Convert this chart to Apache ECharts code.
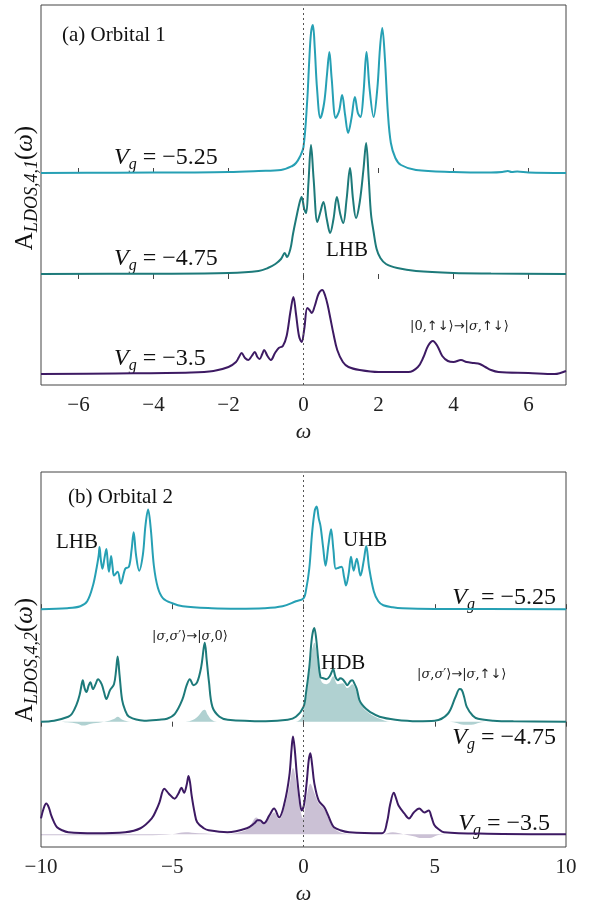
<!DOCTYPE html>
<html>
<head>
<meta charset="utf-8">
<script src="https://cdn.jsdelivr.net/npm/echarts@6/dist/echarts.min.js"></script>
<style>
  html, body { margin: 0; padding: 0; background: #fff; }
  #chart { width: 595px; height: 906px; }
</style>
</head>
<body>
<div id="chart"></div>
<script>
// spectral curves, [omega, height above own baseline]
var orb1_m525 = [[-7,0],[-5,0.003],[-3,0.006],[-2,0.01],[-1.2,0.02],[-0.6,0.03],[-0.3,0.07],[-0.2,0.1],[-0.1,0.16],[0,0.26],[0.1,0.73],[0.15,1.1],[0.2,1.4],[0.25,1.48],[0.3,1.25],[0.36,0.85],[0.45,0.55],[0.55,0.7],[0.63,1.0],[0.69,1.21],[0.75,0.95],[0.86,0.55],[0.95,0.62],[1.03,0.78],[1.11,0.58],[1.19,0.4],[1.28,0.55],[1.37,0.76],[1.45,0.6],[1.52,0.56],[1.6,0.8],[1.68,1.21],[1.76,0.85],[1.87,0.56],[1.97,0.85],[2.04,1.25],[2.1,1.45],[2.17,1.15],[2.25,0.6],[2.33,0.3],[2.45,0.15],[2.6,0.08],[3,0.03],[4,0.01],[5,0.005],[5.3,0.01],[5.45,0.02],[5.55,0.01],[5.7,0.015],[6,0.005],[7,0]];
var orb1_m475 = [[-7,0],[-4,0.003],[-2,0.01],[-1.2,0.03],[-0.95,0.06],[-0.75,0.1],[-0.6,0.15],[-0.5,0.21],[-0.44,0.17],[-0.35,0.25],[-0.28,0.4],[-0.2,0.55],[-0.1,0.72],[-0.05,0.77],[0.02,0.65],[0.07,0.61],[0.13,0.9],[0.2,1.29],[0.27,0.95],[0.37,0.52],[0.45,0.62],[0.53,0.72],[0.62,0.55],[0.71,0.41],[0.8,0.55],[0.89,0.77],[0.98,0.6],[1.06,0.51],[1.15,0.75],[1.24,1.06],[1.32,0.75],[1.4,0.56],[1.5,0.72],[1.6,1.05],[1.67,1.31],[1.74,0.95],[1.8,0.6],[1.87,0.42],[1.95,0.25],[2.05,0.16],[2.2,0.1],[2.5,0.06],[3,0.03],[4,0.01],[5,0.005],[7,0]];
var orb1_m350 = [[-7,0],[-5,0.005],[-3,0.015],[-2.4,0.03],[-2.0,0.07],[-1.8,0.12],[-1.72,0.17],[-1.65,0.21],[-1.56,0.16],[-1.47,0.14],[-1.38,0.18],[-1.3,0.22],[-1.23,0.17],[-1.17,0.15],[-1.1,0.2],[-1.05,0.24],[-0.96,0.18],[-0.87,0.14],[-0.76,0.21],[-0.66,0.26],[-0.55,0.28],[-0.45,0.38],[-0.35,0.62],[-0.27,0.77],[-0.2,0.6],[-0.12,0.38],[-0.05,0.32],[0.02,0.45],[0.1,0.66],[0.16,0.64],[0.22,0.61],[0.3,0.68],[0.4,0.8],[0.5,0.84],[0.58,0.78],[0.65,0.68],[0.72,0.55],[0.8,0.4],[0.9,0.24],[1.05,0.12],[1.2,0.07],[1.5,0.04],[2,0.02],[2.8,0.02],[3.05,0.07],[3.2,0.17],[3.32,0.28],[3.45,0.33],[3.57,0.28],[3.7,0.18],[3.85,0.13],[4.0,0.12],[4.2,0.14],[4.35,0.12],[4.55,0.11],[4.7,0.1],[4.85,0.07],[5.0,0.04],[5.2,0.02],[6,0.01],[6.7,0.0],[7,0.03]];

var orb2_m525 = [[-10,0],[-9,0.01],[-8.5,0.03],[-8.24,0.08],[-8.02,0.24],[-7.88,0.42],[-7.8,0.55],[-7.77,0.63],[-7.72,0.5],[-7.66,0.41],[-7.58,0.52],[-7.51,0.61],[-7.45,0.45],[-7.41,0.38],[-7.33,0.54],[-7.27,0.42],[-7.22,0.34],[-7.08,0.38],[-6.96,0.26],[-6.79,0.41],[-6.65,0.43],[-6.55,0.6],[-6.47,0.78],[-6.38,0.55],[-6.26,0.39],[-6.12,0.55],[-6.02,0.85],[-5.92,1.01],[-5.82,0.82],[-5.7,0.44],[-5.55,0.22],[-5.35,0.11],[-5.0,0.06],[-4.6,0.03],[-3.5,0.01],[-2.5,0.005],[-1.5,0.01],[-0.8,0.03],[-0.29,0.08],[0,0.11],[0.1,0.2],[0.22,0.41],[0.33,0.78],[0.43,1.0],[0.5,1.04],[0.58,0.92],[0.65,0.84],[0.75,0.62],[0.84,0.44],[0.95,0.65],[1.05,0.81],[1.14,0.6],[1.23,0.41],[1.34,0.42],[1.45,0.43],[1.55,0.32],[1.62,0.24],[1.72,0.36],[1.81,0.53],[1.91,0.39],[2.03,0.51],[2.17,0.34],[2.3,0.5],[2.39,0.64],[2.5,0.42],[2.68,0.18],[2.85,0.08],[3.04,0.04],[3.4,0.02],[3.76,0.01],[5,0.003],[10,0]];
var orb2_m475 = [[-10,0],[-9.5,0.01],[-8.96,0.05],[-8.82,0.08],[-8.65,0.17],[-8.53,0.27],[-8.45,0.38],[-8.41,0.42],[-8.34,0.34],[-8.27,0.3],[-8.18,0.37],[-8.12,0.4],[-8.02,0.33],[-7.92,0.38],[-7.83,0.43],[-7.69,0.38],[-7.6,0.3],[-7.51,0.23],[-7.37,0.32],[-7.22,0.38],[-7.14,0.52],[-7.08,0.66],[-7.01,0.48],[-6.91,0.22],[-6.8,0.12],[-6.65,0.05],[-6.07,0.01],[-5.5,0.02],[-5.2,0.03],[-4.9,0.08],[-4.62,0.22],[-4.45,0.37],[-4.33,0.43],[-4.19,0.37],[-4.05,0.4],[-3.9,0.55],[-3.8,0.75],[-3.76,0.8],[-3.69,0.63],[-3.6,0.4],[-3.47,0.15],[-3.2,0.05],[-2.89,0.02],[-1.44,0.005],[-0.6,0.02],[-0.29,0.05],[0,0.15],[0.1,0.3],[0.22,0.55],[0.32,0.85],[0.41,0.95],[0.48,0.85],[0.55,0.66],[0.65,0.45],[0.76,0.44],[0.87,0.43],[1.0,0.46],[1.13,0.53],[1.22,0.45],[1.31,0.42],[1.4,0.44],[1.49,0.43],[1.58,0.4],[1.67,0.37],[1.78,0.41],[1.86,0.42],[1.95,0.38],[2.03,0.33],[2.13,0.22],[2.24,0.17],[2.38,0.13],[2.53,0.1],[2.9,0.05],[3.5,0.02],[4.34,0.005],[5.0,0.01],[5.5,0.08],[5.79,0.25],[5.95,0.33],[6.03,0.32],[6.12,0.25],[6.22,0.15],[6.45,0.06],[6.65,0.03],[7.23,0.01],[8,0.003],[10,0]];
var orb2_m350 = [[-10,0.16],[-9.9,0.26],[-9.8,0.31],[-9.7,0.27],[-9.61,0.19],[-9.5,0.12],[-9.39,0.07],[-9.2,0.04],[-8.96,0.02],[-7.95,0.01],[-6.79,0.02],[-6.21,0.06],[-5.78,0.16],[-5.6,0.25],[-5.49,0.32],[-5.3,0.46],[-5.13,0.41],[-4.91,0.36],[-4.77,0.41],[-4.65,0.47],[-4.55,0.42],[-4.45,0.5],[-4.38,0.59],[-4.32,0.52],[-4.26,0.39],[-4.15,0.22],[-4.05,0.12],[-3.8,0.06],[-3.61,0.04],[-2.9,0.02],[-2.16,0.06],[-1.87,0.11],[-1.75,0.14],[-1.66,0.14],[-1.51,0.11],[-1.3,0.19],[-1.12,0.26],[-0.93,0.17],[-0.72,0.32],[-0.54,0.59],[-0.45,0.88],[-0.4,0.99],[-0.33,0.85],[-0.26,0.62],[-0.15,0.35],[-0.07,0.24],[0.02,0.3],[0.12,0.52],[0.2,0.75],[0.26,0.82],[0.33,0.7],[0.41,0.52],[0.58,0.34],[0.8,0.27],[0.94,0.19],[1.05,0.12],[1.16,0.07],[1.4,0.04],[1.74,0.02],[3.0,0.01],[3.18,0.12],[3.3,0.3],[3.44,0.42],[3.53,0.36],[3.62,0.29],[3.84,0.21],[4.02,0.16],[4.2,0.22],[4.41,0.26],[4.6,0.22],[4.77,0.24],[4.88,0.17],[4.99,0.09],[5.15,0.05],[5.35,0.02],[7,0.005],[10,0]];

// shaded contributions under the Vg=-4.75 and Vg=-3.5 curves of orbital 2
var orb2_fill475 = [[-10,0],[-9,-0.005],[-8.6,-0.02],[-8.4,-0.04],[-8.1,-0.02],[-7.7,-0.005],[-7.4,0.01],[-7.2,0.03],[-7.08,0.05],[-6.9,0.02],[-6.6,0],[-4.5,0],[-4.2,0.02],[-4.0,0.06],[-3.85,0.11],[-3.76,0.12],[-3.65,0.07],[-3.5,0.02],[-3.3,0],[-0.3,0],[-0.1,0.03],[0,0.1],[0.1,0.25],[0.22,0.5],[0.32,0.72],[0.42,0.8],[0.5,0.7],[0.6,0.5],[0.7,0.4],[0.87,0.38],[1.0,0.4],[1.13,0.46],[1.3,0.38],[1.5,0.39],[1.67,0.34],[1.86,0.38],[2.03,0.3],[2.24,0.15],[2.53,0.08],[2.9,0.03],[3.3,0],[5.5,0],[5.8,-0.01],[6.1,-0.03],[6.4,-0.03],[6.7,-0.01],[7,0],[10,0]];
var orb2_fill350 = [[-10,-0.01],[-8,-0.01],[-6,-0.01],[-5,0],[-4.5,0.02],[-4,0.01],[-3,0],[-2.2,0.04],[-2.0,0.1],[-1.8,0.17],[-1.65,0.14],[-1.5,0.11],[-1.3,0.17],[-1.12,0.22],[-0.93,0.15],[-0.72,0.28],[-0.54,0.48],[-0.4,0.67],[-0.26,0.5],[-0.15,0.28],[-0.02,0.16],[0.12,0.38],[0.26,0.51],[0.41,0.42],[0.58,0.31],[0.8,0.25],[0.94,0.17],[1.16,0.06],[1.5,0.01],[2.0,0],[3.0,0],[3.4,0.02],[3.8,0],[4.2,-0.02],[4.5,-0.04],[4.8,-0.04],[5.1,-0.01],[5.5,0],[10,0]];

var ticksA = [-6, -4, -2, 0, 2, 4, 6];
var offsetsA = [2.01, 1.0, 0];   // baselines of Vg=-5.25, -4.75, -3.5
var offsetsB = [2.28, 1.14, 0];
var colors = ['#26a0b4', '#1d7a7a', '#3d1a63'];
var fillColors = ['rgba(29,122,122,0.35)', 'rgba(61,26,99,0.27)'];

var serif = "'Liberation Serif', 'DejaVu Serif', serif";
var mathSerif = "'DejaVu Serif', serif";
var symSans = "'DejaVu Sans', sans-serif";

function minusFmt(v) {
  return (v < 0 ? '\u2212' : '') + Math.abs(v);
}

function bottomAxis(grid, min, max, extra) {
  var ax = {
    type: 'value', gridIndex: grid, position: 'bottom', min: min, max: max,
    axisLine: { show: false },
    axisTick: { inside: true, length: 5, lineStyle: { color: '#444' } },
    splitLine: { show: false },
    axisLabel: { color: '#222', fontSize: 21, fontFamily: serif, margin: 10, formatter: minusFmt },
    name: 'ω', nameLocation: 'middle', nameGap: 36,
    nameTextStyle: { fontSize: 22, fontStyle: 'italic', fontFamily: serif, color: '#222' }
  };
  return Object.assign(ax, extra || {});
}

function topAxis(grid, min, max, extra) {
  var ax = {
    type: 'value', gridIndex: grid, position: 'top', min: min, max: max,
    axisLine: { show: false },
    axisTick: { inside: true, length: 5, lineStyle: { color: '#444' } },
    splitLine: { show: false },
    axisLabel: { show: false }
  };
  return Object.assign(ax, extra || {});
}

function hiddenY(grid, off, lo, hi) {
  return { type: 'value', gridIndex: grid, show: false, min: lo - off, max: hi - off };
}

function curve(data, xi, yi, color, z) {
  return {
    type: 'line', xAxisIndex: xi, yAxisIndex: yi, data: data,
    showSymbol: false, smooth: 0.35, z: z || 3, silent: true,
    lineStyle: { color: color, width: 2 }
  };
}

function shade(data, xi, yi, color) {
  return {
    type: 'line', xAxisIndex: xi, yAxisIndex: yi, data: data,
    showSymbol: false, smooth: 0.35, z: 2, silent: true,
    lineStyle: { width: 0 },
    areaStyle: { color: color, opacity: 1 }
  };
}

var zeroLine = {
  silent: true, symbol: 'none', label: { show: false },
  lineStyle: { color: '#555', type: [2, 3], width: 1 },
  data: [{ xAxis: 0 }]
};

function vgText(x, y, val, align) {
  return {
    type: 'text', x: x, y: y, silent: true,
    style: {
      text: '{v|V}{g|g}{n| = ' + val + '}',
      align: align || 'left', verticalAlign: 'middle', fill: '#111',
      rich: {
        v: { fontSize: 24, fontStyle: 'italic', fontFamily: serif, lineHeight: 30 },
        g: { fontSize: 16, fontStyle: 'italic', fontFamily: serif, lineHeight: 14, verticalAlign: 'bottom' },
        n: { fontSize: 24, fontFamily: serif, lineHeight: 30 }
      }
    }
  };
}

function plainText(x, y, txt, size, align) {
  return {
    type: 'text', x: x, y: y, silent: true,
    style: { text: txt, font: size + 'px ' + serif, fill: '#111', align: align || 'left', verticalAlign: 'middle' }
  };
}

function ketText(x, y, txt) {
  return {
    type: 'text', x: x, y: y, silent: true,
    style: {
      text: txt, align: 'left', verticalAlign: 'middle', fill: '#222',
      rich: {
        n: { fontSize: 13, fontFamily: mathSerif },
        i: { fontSize: 13, fontStyle: 'italic', fontFamily: mathSerif },
        s: { fontSize: 13, fontFamily: symSans }
      }
    }
  };
}

function yLabel(x, y, sub) {
  return {
    type: 'text', x: x, y: y, rotation: Math.PI / 2, silent: true,
    style: {
      text: '{a|A}{s|' + sub + '}{a|(}{w|ω}{a|)}',
      align: 'center', verticalAlign: 'middle', fill: '#111',
      rich: {
        a: { fontSize: 25, fontFamily: serif, lineHeight: 32 },
        w: { fontSize: 25, fontStyle: 'italic', fontFamily: serif, lineHeight: 32 },
        s: { fontSize: 18, fontStyle: 'italic', fontFamily: serif, lineHeight: 16, verticalAlign: 'bottom' }
      }
    }
  };
}

var myChart = echarts.init(document.getElementById('chart'), null, { renderer: 'canvas' });

var option = {
  animation: false,
  backgroundColor: '#fff',
  grid: [
    { left: 41, top: 5, width: 525, height: 380, show: true, borderColor: '#444', borderWidth: 1, backgroundColor: 'transparent' },
    { left: 41, top: 472, width: 525, height: 380, show: true, borderColor: '#444', borderWidth: 1, backgroundColor: 'transparent' }
  ],
  xAxis: [
    bottomAxis(0, -7, 7, { axisTick: { inside: true, length: 5, lineStyle: { color: '#444' }, customValues: ticksA },
      axisLabel: { color: '#222', fontSize: 21, fontFamily: serif, margin: 10, formatter: minusFmt, customValues: ticksA } }),
    topAxis(0, -7, 7, { axisTick: { inside: true, length: 5, lineStyle: { color: '#444' }, customValues: ticksA } }),
    bottomAxis(1, -10, 10, { interval: 5 }),
    topAxis(1, -10, 10, { interval: 5 })
  ],
  yAxis: [
    hiddenY(0, offsetsA[0], -0.11, 3.69),
    hiddenY(0, offsetsA[1], -0.11, 3.69),
    hiddenY(0, offsetsA[2], -0.11, 3.69),
    hiddenY(1, offsetsB[0], -0.13, 3.67),
    hiddenY(1, offsetsB[1], -0.13, 3.67),
    hiddenY(1, offsetsB[2], -0.13, 3.67)
  ],
  series: [
    Object.assign(curve(orb1_m525, 0, 0, colors[0]), { markLine: zeroLine }),
    curve(orb1_m475, 0, 1, colors[1]),
    curve(orb1_m350, 0, 2, colors[2]),
    shade(orb2_fill475, 2, 4, fillColors[0]),
    shade(orb2_fill350, 2, 5, fillColors[1]),
    Object.assign(curve(orb2_m525, 2, 3, colors[0]), { markLine: zeroLine }),
    curve(orb2_m475, 2, 4, colors[1]),
    curve(orb2_m350, 2, 5, colors[2])
  ],
  graphic: [
    yLabel(25, 188, 'LDOS,4,1'),
    yLabel(25, 660, 'LDOS,4,2'),
    plainText(62, 35, '(a) Orbital 1', 21),
    vgText(114, 158, '\u22125.25'),
    vgText(114, 259, '\u22124.75'),
    vgText(114, 359, '\u22123.5'),
    plainText(347, 250, 'LHB', 21, 'center'),
    ketText(410, 327, '{n||0,}{s|\u2191\u2193\u27e9\u2192}{n||}{i|σ}{n|,}{s|\u2191\u2193\u27e9}'),
    plainText(68, 497, '(b) Orbital 2', 21),
    plainText(56, 542, 'LHB', 21),
    plainText(343, 540, 'UHB', 21),
    vgText(556, 598, '\u22125.25', 'right'),
    ketText(152, 637, '{n||}{i|σ}{n|,}{i|σ}{n|\u2032}{s|\u27e9\u2192}{n||}{i|σ}{n|,0}{s|\u27e9}'),
    plainText(321, 663, 'HDB', 21),
    ketText(417, 675, '{n||}{i|σ}{n|,}{i|σ}{n|\u2032}{s|\u27e9\u2192}{n||}{i|σ}{n|,}{s|\u2191\u2193\u27e9}'),
    vgText(556, 738, '\u22124.75', 'right'),
    vgText(550, 824, '\u22123.5', 'right')
  ]
};

myChart.setOption(option, true);
window.addEventListener('resize', function () {
  myChart.resize();
});
</script>
</body>
</html>
